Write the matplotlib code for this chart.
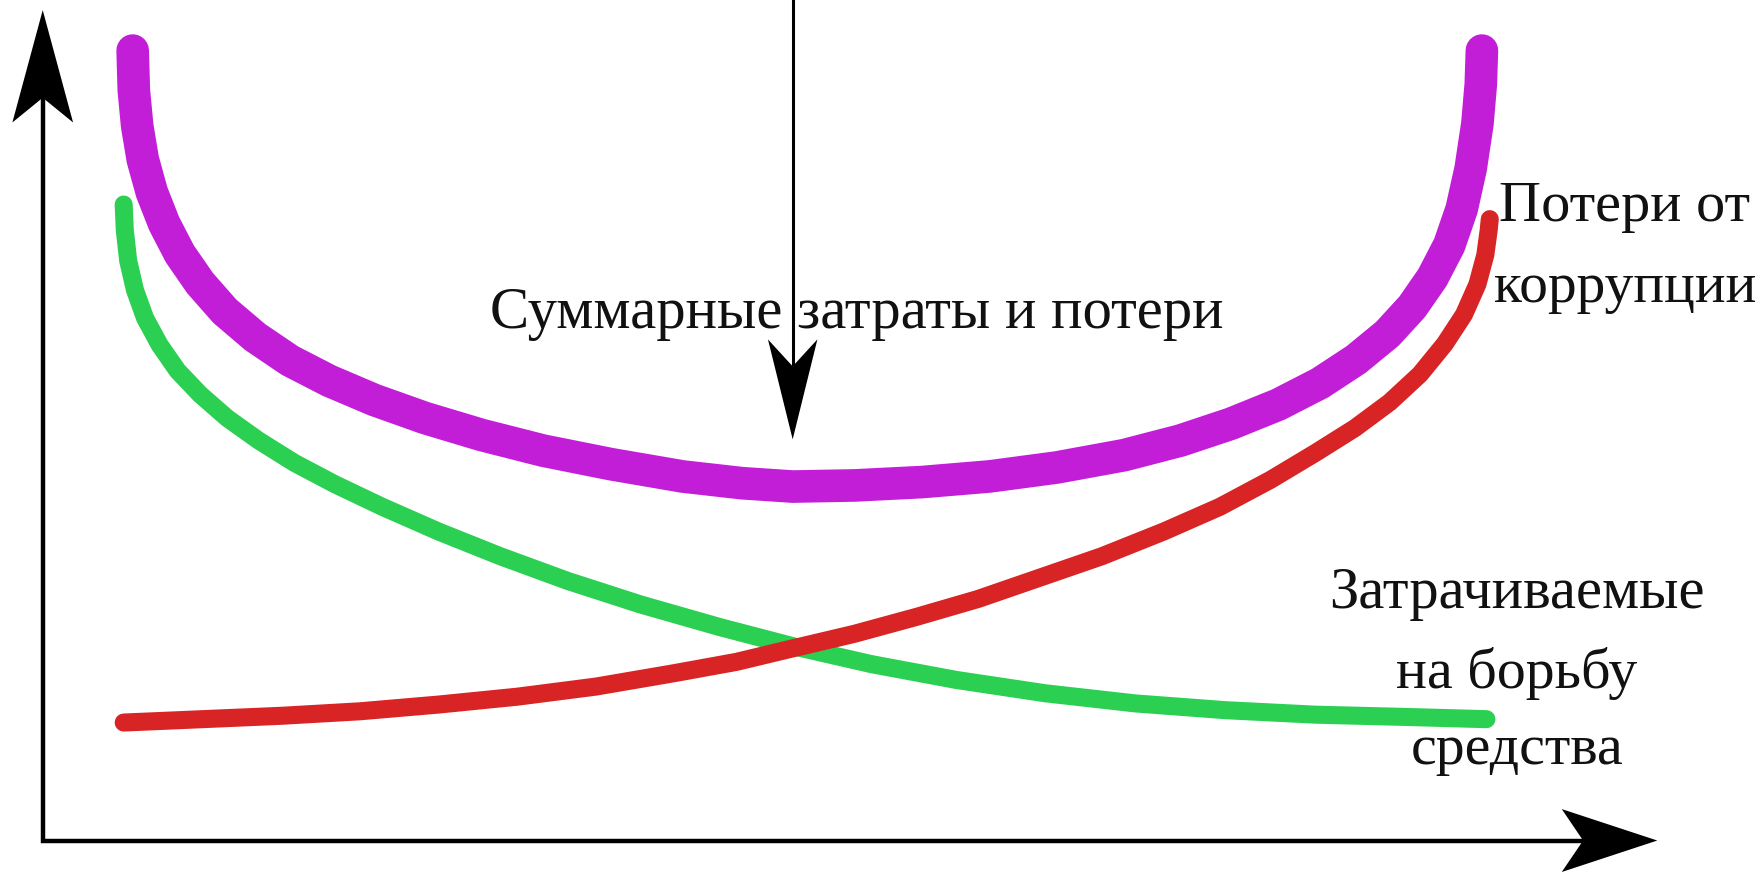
import matplotlib
matplotlib.use("Agg")
import matplotlib.pyplot as plt
from matplotlib.patches import Polygon

# ---------------- data ----------------
# x: effort / money spent on fighting corruption, y: cost (arbitrary units)
total_x = [0.80, 0.81, 0.84, 0.89, 0.97, 1.08, 1.22, 1.40, 1.62, 1.89, 2.20, 2.55, 2.95, 3.40, 3.90,
           4.45, 5.05, 5.69, 6.22, 6.67, 7.22, 7.82, 8.42, 9.02, 9.62, 10.12, 10.57, 10.99, 11.36,
           11.68, 11.96, 12.18, 12.36, 12.51, 12.62, 12.70, 12.76, 12.79, 12.80]
total_y = [7.03, 6.68, 6.36, 6.06, 5.77, 5.49, 5.22, 4.96, 4.71, 4.48, 4.27, 4.09, 3.92, 3.76, 3.61,
           3.47, 3.35, 3.24, 3.18, 3.15, 3.16, 3.19, 3.24, 3.32, 3.43, 3.56, 3.71, 3.88, 4.07,
           4.28, 4.51, 4.75, 5.01, 5.30, 5.62, 5.98, 6.38, 6.73, 7.03]

spend_x = [0.72, 0.73, 0.76, 0.82, 0.91, 1.04, 1.20, 1.40, 1.64, 1.92, 2.24, 2.60, 3.02, 3.52, 4.07,
           4.67, 5.32, 6.02, 6.67, 7.37, 8.12, 8.92, 9.72, 10.52, 11.32, 12.12, 12.84]
spend_y = [5.66, 5.43, 5.16, 4.90, 4.65, 4.41, 4.18, 3.97, 3.76, 3.56, 3.36, 3.17, 2.97, 2.75, 2.53,
           2.31, 2.10, 1.90, 1.73, 1.57, 1.43, 1.31, 1.22, 1.16, 1.12, 1.10, 1.08]

loss_x = [0.72, 1.42, 2.12, 2.82, 3.52, 4.22, 4.92, 5.62, 6.17, 6.67, 7.22, 7.77, 8.32, 8.87, 9.42,
          9.97, 10.47, 10.92, 11.32, 11.67, 11.98, 12.25, 12.47, 12.64, 12.76, 12.83, 12.86, 12.87]
loss_y = [1.05, 1.08, 1.11, 1.15, 1.21, 1.28, 1.37, 1.49, 1.59, 1.71, 1.84, 1.99, 2.15, 2.34, 2.53,
          2.75, 2.97, 3.21, 3.45, 3.67, 3.90, 4.15, 4.42, 4.68, 4.95, 5.21, 5.43, 5.53]

label_total = "Суммарные затраты и потери"
label_loss = ["Потери от", "коррупции"]
label_spend = ["Затрачиваемые", "на борьбу", "средства"]

# ---------------- figure ----------------
W, H, DPI = 1763, 872, 100
fig = plt.figure(figsize=(W / DPI, H / DPI), dpi=DPI)
fig.patch.set_facecolor("white")
ax = fig.add_axes([0, 0, 1, 1])
ax.set_xlim(-0.38, 15.30)
ax.set_ylim(-0.28, 7.48)
ax.axis("off")

PURPLE = "#C21ED8"
GREEN = "#2BCF52"
RED = "#D82424"

common = dict(solid_capstyle="round", solid_joinstyle="round")
ax.plot(total_x, total_y, color=PURPLE, lw=23.5, zorder=2, **common)
ax.plot(spend_x, spend_y, color=GREEN, lw=13, zorder=3, **common)
ax.plot(loss_x, loss_y, color=RED, lw=13, zorder=4, **common)


def arrow_head(tip, direction, length, half_w, notch):
    tx, ty = tip
    dx, dy = direction
    px, py = -dy, dx
    bx, by = tx - dx * length, ty - dy * length
    nx, ny = tx - dx * (length - notch), ty - dy * (length - notch)
    pts = [(tx, ty), (bx + px * half_w, by + py * half_w), (nx, ny),
           (bx - px * half_w, by - py * half_w)]
    ax.add_patch(Polygon(pts, closed=True, color="black", lw=0, zorder=6))
    return nx, ny


# coordinate axes with arrows
nx, ny = arrow_head((0, 7.39), (0, 1), 1.00, 0.27, 0.22)
ax.plot([0, 0, 14.1], [ny, 0, 0], color="black", lw=3.2, solid_joinstyle="miter", zorder=5)
arrow_head((14.36, 0), (1, 0), 0.85, 0.28, 0.19)

# pointer arrow to the minimum of the total curve
nx, ny = arrow_head((6.67, 3.57), (0, -1), 0.89, 0.22, 0.24)
ax.plot([6.67, 6.67], [7.7, ny], color="black", lw=2.2, zorder=5)

# ---------------- texts ----------------
FONT = ["Liberation Serif", "DejaVu Serif"]


def fit_text(x, y, s, target_w_px):
    t = ax.text(x, y, s, fontsize=50, family=FONT, ha="center", va="baseline",
                color="#111111", zorder=7)
    fig.canvas.draw()
    w = t.get_window_extent().width
    t.set_fontsize(50 * target_w_px / w * 1.03)
    return t


fit_text(7.24, 4.56, label_total, 714)
fit_text(14.07, 5.51, label_loss[0], 244)
fit_text(14.07, 4.79, label_loss[1], 255)
fit_text(13.11, 2.07, label_spend[0], 365)
fit_text(13.11, 1.36, label_spend[1], 235)
fit_text(13.11, 0.68, label_spend[2], 207)

fig.savefig("out.png", dpi=DPI, facecolor="white")
